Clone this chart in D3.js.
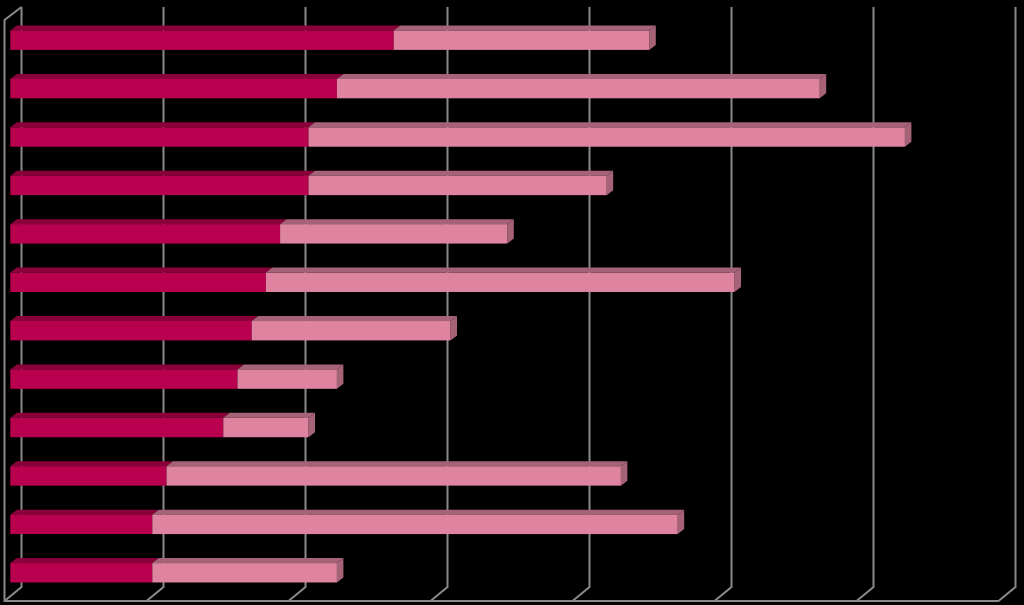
<!DOCTYPE html>
<html>
<head>
<meta charset="utf-8">
<script src="https://cdn.jsdelivr.net/npm/d3@7"></script>
<style>
html, body { margin: 0; background: #000; }
svg { display: block; }
</style>
</head>
<body>
<svg id="chart" width="1024" height="605"></svg>
<script>
var rows = [1, 2, 3, 4, 5, 6, 7, 8, 9, 10, 11, 12];
var dark = [27, 23, 21, 21, 19, 18, 17, 16, 15, 11, 10, 10];
var light = [18, 34, 42, 21, 16, 33, 14, 7, 6, 32, 37, 13];
var ticks = [0, 10, 20, 30, 40, 50, 60, 70];

var svg = d3.select('#chart');
var wallColor = '#8a8a8a';

// front plane of the 3d box, back wall sits at depth offset
var depth = [17, -14];
var barShift = [5.8, -4.5];
var barDepth = [6.5, -5];

var x = d3.scaleLinear().domain([0, 70]).range([4.5, 998.5]);
var y = d3.scaleBand().domain(rows).range([20.5, 601.5]).paddingInner(0.6).paddingOuter(0.3);

var wall = svg.append('g').attr('fill', 'none').attr('stroke', wallColor).attr('stroke-width', 2);

// floor + left edge
wall.append('path')
  .attr('d', d3.line()([
    [x(0) + depth[0], 7],
    [x(0), 20],
    [x(0), 601],
    [x(70), 601],
    [x(70) + depth[0], 601 + depth[1]],
    [x(70) + depth[0], 7]
  ]));

// gridlines on back wall and their floor ticks
wall.selectAll('path.grid').data(ticks.slice(0, -1)).enter().append('path')
  .attr('class', 'grid')
  .attr('d', function(d){
    return d3.line()([
      [x(d) + depth[0], 7],
      [x(d) + depth[0], 601 + depth[1]],
      [x(d), 601]
    ]);
  });

function poly(pts){
  return d3.line()(pts) + 'Z';
}

function drawBar(g, from, to, i, colors, withEnd){
  var x0 = x(from) + barShift[0];
  var x1 = x(to) + barShift[0];
  var y0 = y(rows[i]) + barShift[1];
  var y1 = y0 + y.bandwidth();
  var dx = barDepth[0], dy = barDepth[1];
  g.append('path').attr('fill', colors[1])
    .attr('d', poly([[x0, y0], [x0 + dx, y0 + dy], [x1 + dx, y0 + dy], [x1, y0]]));
  if (withEnd) {
    g.append('path').attr('fill', colors[2])
      .attr('d', poly([[x1, y0], [x1 + dx, y0 + dy], [x1 + dx, y1 + dy], [x1, y1]]));
  }
  g.append('rect').attr('fill', colors[0])
    .attr('x', x0).attr('y', y0).attr('width', x1 - x0).attr('height', y1 - y0);
}

var bars = svg.append('g');
rows.forEach(function(r, i){
  drawBar(bars, 0, dark[i], i, ['#B9004F', '#8A003B', '#8A003B'], false);
  drawBar(bars, dark[i], dark[i] + light[i], i, ['#DE84A0', '#A66378', '#A66378'], true);
});
</script>
</body>
</html>
